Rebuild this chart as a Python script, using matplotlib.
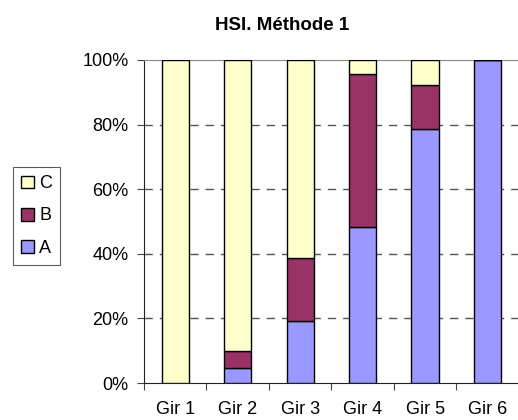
import matplotlib
matplotlib.use("Agg")
import matplotlib.pyplot as plt
from matplotlib.patches import Patch
import numpy as np

categories = ["Gir 1", "Gir 2", "Gir 3", "Gir 4", "Gir 5", "Gir 6"]
share_a = [0.0, 4.7, 19.3, 48.2, 78.7, 100.0]
share_b = [0.0, 5.2, 19.4, 47.4, 13.6, 0.0]
share_c = [100.0, 90.1, 61.3, 4.4, 7.7, 0.0]
series_names = ["A", "B", "C"]
colors = ["#9999FF", "#993366", "#FFFFCC"]
yticks = [0, 20, 40, 60, 80, 100]
title = "HSI. Méthode 1"

plt.rcParams["font.family"] = ["Liberation Sans", "DejaVu Sans"]

W, H = 518, 420
fig = plt.figure(figsize=(W / 100, H / 100), dpi=100)
ax = fig.add_axes([144 / W, 1 - 383 / H, 375 / W, 323 / H])

x = np.arange(len(categories)) + 0.5
bottom = np.zeros(len(categories))
for vals, col, name in zip([share_a, share_b, share_c], colors, series_names):
    vals = np.array(vals)
    ax.bar(x, vals, width=0.44, bottom=bottom, color=col,
           edgecolor="black", linewidth=1.0, label=name, zorder=3)
    bottom += vals

ax.set_xlim(0, len(categories))
ax.set_ylim(0, 100)
ax.set_yticks(yticks)
ax.set_yticklabels([f"{t}%" for t in yticks], fontsize=13)
ax.set_xticks(np.arange(len(categories) + 1))
ax.set_xticklabels([])
ax.set_xticks(x, minor=True)
ax.set_xticklabels(categories, minor=True, fontsize=13)
ax.tick_params(axis="x", which="minor", length=0, pad=13)
ax.tick_params(axis="x", which="major", length=5, direction="out", color="#444444")
ax.tick_params(axis="y", length=5, direction="out", color="#444444", pad=6)

for t in yticks[1:-1]:
    ax.axhline(t, color="#555555", linestyle=(0, (6, 5)), linewidth=1.0, zorder=1)

ax.spines["right"].set_visible(False)
ax.spines["top"].set_color("#888888")
ax.spines["left"].set_color("#222222")
ax.spines["bottom"].set_color("#222222")

fig.text(282 / W, 1 - 25 / H, title, ha="center", va="center",
         fontsize=13.5, fontweight="bold")

handles = [Patch(facecolor=c, edgecolor="black", linewidth=1.0, label=n)
           for c, n in zip(colors, series_names)][::-1]
leg = fig.legend(handles=handles, loc="center left",
                 bbox_to_anchor=(13 / W, 1 - 216 / H), fontsize=13,
                 frameon=True, fancybox=False, edgecolor="#333333",
                 handlelength=0.7, handleheight=0.7, handletextpad=0.3,
                 labelspacing=0.85, borderpad=0.45, borderaxespad=0)
leg.get_frame().set_linewidth(0.8)

fig.savefig("out.png", dpi=100)
